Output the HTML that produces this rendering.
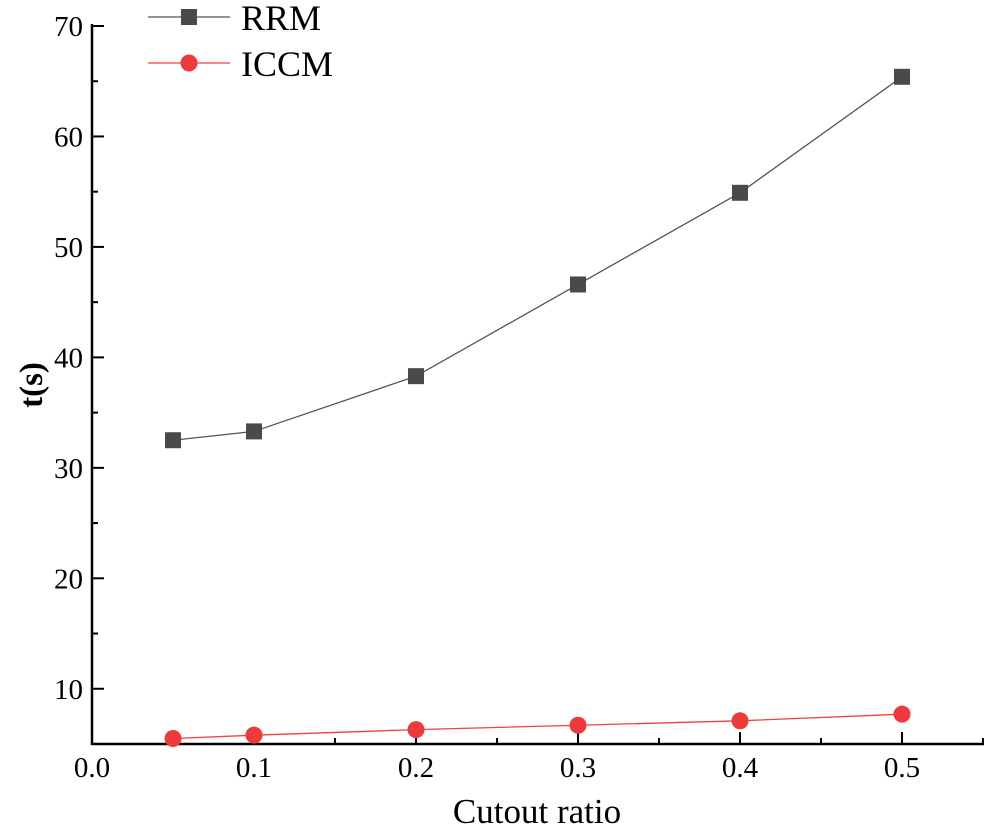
<!DOCTYPE html>
<html><head><meta charset="utf-8"><style>
html,body{margin:0;padding:0;background:#fff;}
svg{display:block;font-family:"Liberation Serif",serif;}
</style></head><body>
<svg id="chart" width="991" height="832"></svg>
<script>
const xValues=[0.05,0.1,0.2,0.3,0.4,0.5];
const rrmValues=[32.5,33.3,38.3,46.6,54.9,65.4];
const iccmValues=[5.5,5.8,6.3,6.7,7.1,7.7];
const xTicks=[0.0,0.1,0.2,0.3,0.4,0.5];
const xTickLabels=["0.0","0.1","0.2","0.3","0.4","0.5"];
const yTicks=[10,20,30,40,50,60,70];
const yTickLabels=["10","20","30","40","50","60","70"];
const NS="http://www.w3.org/2000/svg";
const svg=document.getElementById('chart');
const X0=92,Y0=744,xScale=1620,yTop=26;
function sx(v){return X0+v*xScale;}
function sy(v){return Y0-(v-5)*(Y0-yTop)/65;}
function el(t,a,p){const e=document.createElementNS(NS,t);for(const k in a)e.setAttribute(k,a[k]);(p||svg).appendChild(e);return e;}
const ax=el('line',{x1:X0,y1:yTop-2,x2:X0,y2:Y0+1,stroke:'#000','stroke-width':2.5});


const axx=el('line',{x1:X0-1,y1:Y0,x2:984,y2:Y0,stroke:'#000','stroke-width':2.5});


xTicks.forEach((v,i)=>{
  el('line',{x1:sx(v),y1:Y0,x2:sx(v),y2:Y0-12,stroke:'#000','stroke-width':2});
  el('line',{x1:sx(v+0.05),y1:Y0,x2:sx(v+0.05),y2:Y0-6,stroke:'#000','stroke-width':2});
  const t=el('text',{x:sx(v),y:Y0+33,'text-anchor':'middle','font-size':29});
  t.textContent=xTickLabels[i];
  
  
});
yTicks.forEach((v,i)=>{
  el('line',{x1:X0,y1:sy(v),x2:X0+12,y2:sy(v),stroke:'#000','stroke-width':2});
  if(v<70) el('line',{x1:X0,y1:sy(v+5),x2:X0+6,y2:sy(v+5),stroke:'#000','stroke-width':2});
  const t=el('text',{x:X0-9,y:sy(v)+10,'text-anchor':'end','font-size':29});
  t.textContent=yTickLabels[i];
  
  
});
const xt=el('text',{x:537,y:823,'text-anchor':'middle','font-size':35});
xt.textContent='Cutout ratio';


const yt=el('text',{x:0,y:0,'text-anchor':'middle','font-size':33,'font-weight':'bold',transform:'translate(42,385) rotate(-90)'});
yt.textContent='t(s)';


const p1=el('polyline',{points:xValues.map((x,i)=>sx(x)+','+sy(rrmValues[i])).join(' '),fill:'none',stroke:'#555','stroke-width':1.3});


const p2=el('polyline',{points:xValues.map((x,i)=>sx(x)+','+sy(iccmValues[i])).join(' '),fill:'none',stroke:'#f04040','stroke-width':1.3});


xValues.forEach((x,i)=>{
  const r=el('rect',{x:sx(x)-8,y:sy(rrmValues[i])-8,width:16,height:16,fill:'#4a4a4a'});
  
  
  const c=el('circle',{cx:sx(x),cy:sy(iccmValues[i]),r:8.5,fill:'#ee3a3d'});
  
  
});
const lg=el('g',{});


el('line',{x1:148,y1:17,x2:230,y2:17,stroke:'#555','stroke-width':1.3},lg);
el('rect',{x:181,y:9,width:16,height:16,fill:'#4a4a4a'},lg);
const l1=el('text',{x:241,y:30,'font-size':36},lg);l1.textContent='RRM';


el('line',{x1:148,y1:63,x2:230,y2:63,stroke:'#f04040','stroke-width':1.3},lg);
el('circle',{cx:189,cy:63,r:8.5,fill:'#ee3a3d'},lg);
const l2=el('text',{x:241,y:76,'font-size':36},lg);l2.textContent='ICCM';


</script>
</body></html>
